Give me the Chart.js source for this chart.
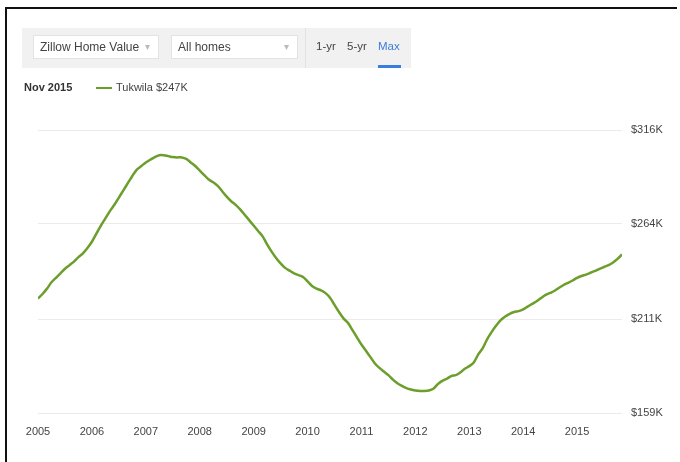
<!DOCTYPE html>
<html>
<head>
<meta charset="utf-8">
<script src="https://cdn.jsdelivr.net/npm/chart.js@4/dist/chart.umd.min.js"></script>
<style>
  html, body { margin:0; padding:0; background:#fff; }
  body { width:680px; height:462px; position:relative; overflow:hidden; font-family:"Liberation Sans", Arial, sans-serif; }
  #wrap { position:absolute; left:0; top:0; width:680px; height:462px; }
  .frameTop { position:absolute; left:5px; top:7px; width:672px; height:2px; background:#111; }
  .frameLeft { position:absolute; left:5px; top:7px; width:2px; height:455px; background:#111; }
  .bar { position:absolute; left:22px; top:28px; width:389px; height:40px; background:#f1f1f1; }
  .sep { position:absolute; left:305px; top:28px; width:1px; height:40px; background:#e2e2e2; }
  .dd { position:absolute; top:35px; height:24px; background:#fff; border:1px solid #e3e3e3; box-sizing:border-box; font-size:12px; color:#444; line-height:22px; padding-left:6px; }
  .dd .arr { position:absolute; right:8px; top:0; color:#bbb; font-size:10px; }
  .tab { position:absolute; top:40px; font-size:11.5px; color:#444; }
  .under { position:absolute; left:378px; top:65px; width:23px; height:3px; background:#3b7ddd; }
  .lg { position:absolute; top:81px; font-size:11px; color:#444; }
  .lgline { position:absolute; left:96px; top:87px; width:16px; height:2px; background:#6b9e2b; }
</style>
</head>
<body>
<div id="wrap"><canvas id="c" width="680" height="462"></canvas></div>
<div class="frameTop"></div>
<div class="frameLeft"></div>
<div class="bar"></div>
<div class="sep"></div>
<div class="dd" style="left:33px;width:126px;">Zillow Home Value<span class="arr">&#9662;</span></div>
<div class="dd" style="left:171px;width:127px;">All homes<span class="arr">&#9662;</span></div>
<div class="tab" style="left:316px;">1-yr</div>
<div class="tab" style="left:347px;">5-yr</div>
<div class="tab" style="left:378px;color:#3b7ddd;">Max</div>
<div class="under"></div>
<div class="lg" style="left:24px;font-weight:bold;color:#333;">Nov 2015</div>
<div class="lgline"></div>
<div class="lg" style="left:116px;">Tukwila $247K</div>
<script>
// Monthly Zillow Home Value index, Tukwila, Jan 2005 .. Nov 2015 (thousands of $)
const startYear = 2005;
const v2005 = [222.5, 225, 228, 231.5, 234, 236.5, 239, 241, 243, 245.5, 247.5, 250.5];
const v2006 = [254, 258.5, 263, 267, 271, 274.5, 278.5, 282.5, 286.5, 290.5, 294, 296];
const v2007 = [298, 299.5, 301, 302, 302, 301.5, 301, 300.8, 300.8, 300, 298, 296];
const v2008 = [293.5, 291, 288.5, 287, 285, 282, 279, 276.5, 274.5, 272, 269, 266];
const v2009 = [263, 260, 257, 252.5, 248.5, 245, 242, 239.5, 238, 236.5, 235.5, 234.5];
const v2010 = [232, 229.5, 228, 227, 225.5, 223, 219, 215, 211.5, 209, 205, 201];
const v2011 = [197, 193.5, 190, 186.5, 184, 182, 180, 177.5, 175.5, 174, 172.8, 172];
const v2012 = [171.5, 171.2, 171.2, 171.5, 172.5, 175, 176.8, 178, 179.5, 180, 181.5, 183.5];
const v2013 = [185, 187, 191.5, 195, 200, 204, 207.5, 210.5, 212.5, 214, 215, 215.5];
const v2014 = [216.5, 218, 219.5, 221, 222.8, 224.5, 225.6, 226.8, 228.5, 230, 231.2, 232.5];
const v2015 = [234, 235, 235.8, 236.8, 237.8, 239, 240, 241, 242.5, 244.5, 247];
const yTicks = [159, 211, 264, 316];
const yearLabels = ['2005','2006','2007','2008','2009','2010','2011','2012','2013','2014','2015'];

const values = [].concat(v2005, v2006, v2007, v2008, v2009, v2010, v2011, v2012, v2013, v2014, v2015);
const points = values.map((v, i) => ({ x: i, y: v }));

new Chart(document.getElementById('c'), {
  type: 'line',
  data: { datasets: [{
    data: points,
    borderColor: '#6b9e2b',
    borderWidth: 2.5,
    pointRadius: 0,
    tension: 0.3,
    fill: false
  }]},
  options: {
    responsive: false,
    animation: false,
    layout: { padding: { left: 38, top: 130, right: 0, bottom: 0 } },
    plugins: { legend: { display: false }, tooltip: { enabled: false } },
    scales: {
      x: {
        type: 'linear',
        min: 0, max: values.length - 1,
        grid: { display: false, drawTicks: false },
        border: { display: false },
        afterBuildTicks: s => { s.ticks = yearLabels.map((_, i) => ({ value: i * 12 })); },
        afterFit: s => { s.height = 49; },
        ticks: {
          autoSkip: false, maxRotation: 0, padding: 12,
          color: '#444', font: { family: 'Liberation Sans', size: 11 },
          callback: (v) => yearLabels[Math.round(v / 12)]
        }
      },
      y: {
        position: 'right',
        min: 159, max: 316,
        grid: { color: '#ebebeb', lineWidth: 1, drawTicks: false },
        border: { display: false },
        afterBuildTicks: s => { s.ticks = yTicks.map(v => ({ value: v })); },
        afterFit: s => { s.width = 58; },
        ticks: {
          padding: 9, color: '#444', font: { family: 'Liberation Sans', size: 11 },
          callback: v => '$' + v + 'K'
        }
      }
    }
  }
});
</script>
</body>
</html>
